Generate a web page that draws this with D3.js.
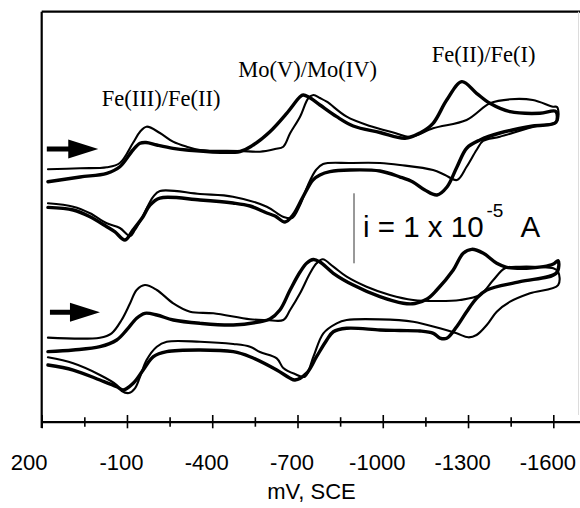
<!DOCTYPE html>
<html>
<head>
<meta charset="utf-8">
<script src="https://cdn.jsdelivr.net/npm/d3@7"></script>
<style>
  body { margin: 0; background: #fff; }
  svg { display: block; }
  .trace { fill: none; stroke: #000; stroke-linejoin: round; stroke-linecap: round; }
  .thick { stroke-width: 3.4; }
  .thin { stroke-width: 2.1; }
  .axis text { font-family: "Liberation Sans", Arial, sans-serif; font-size: 22px; fill: #000; }
  .peak { font-family: "Liberation Serif", "Times New Roman", serif; font-size: 22.5px; fill: #000; }
  .sans { font-family: "Liberation Sans", Arial, sans-serif; fill: #000; }
</style>
</head>
<body>
<div id="cv"></div>
<script>

// potential in mV vs SCE, current in uA (panels offset vertically)
var topThin = [
  [178,36.24],[65,36.39],[-29,36.53],[-75,37.14],[-121,40.0],[-146,41.61],[-169,42.33],[-216,41.43],
  [-262,40.19],[-310,39.47],[-357,39.0],[-498,38.86],[-568,38.76],[-621,39.14],[-650,39.47],[-674,41.39],
  [-709,43.76],[-738,46.39],[-756,46.86],[-779,46.43],[-803,45.9],[-873,43.76],[-955,42.43],[-1043,41.43],
  [-1096,40.86],[-1177,42.1],[-1295,43.29],[-1377,45.67],[-1448,46.24],[-1528,46.14],[-1599,45.19],[-1613,45.14],
  [-1613,43.14],[-1528,42.29],[-1412,40.9],[-1353,40.29],[-1330,39.0],[-1295,36.61],[-1261,34.71],[-1219,35.43],
  [-1177,36.14],[-1061,36.86],[-990,37.14],[-885,37.14],[-790,37.0],[-765,36.14],[-737,34.0],[-709,31.14],
  [-681,29.29],[-649,29.47],[-592,30.9],[-473,32.33],[-357,32.71],[-216,33.14],[-192,32.29],[-156,29.57],
  [-128,27.57],[-111,26.71],[-75,27.86],[-29,28.53],[30,29.96],[89,30.9],[178,31.39]
];

var topThick = [
  [178,34.47],[65,35.14],[-29,35.67],[-75,36.61],[-121,39.0],[-146,39.96],[-167,40.07],[-205,39.71],
  [-262,39.24],[-310,39.0],[-498,38.79],[-544,39.71],[-603,41.61],[-662,44.24],[-709,46.61],[-720,46.86],
  [-738,46.61],[-779,45.43],[-838,43.76],[-896,42.43],[-990,41.5],[-1078,40.67],[-1131,41.43],[-1177,42.81],
  [-1225,46.14],[-1278,48.76],[-1330,47.1],[-1377,45.67],[-1448,44.47],[-1553,44.24],[-1609,44.5],
  [-1609,42.93],[-1528,42.43],[-1412,41.43],[-1342,40.43],[-1296,39.29],[-1261,36.57],[-1226,33.71],[-1191,32.57],
  [-1148,33.29],[-1106,34.43],[-1061,35.14],[-990,36.0],[-885,36.14],[-814,35.9],[-779,35.43],[-754,34.71],
  [-719,32.29],[-684,29.71],[-656,28.71],[-621,29.57],[-592,30.0],[-533,31.0],[-473,31.43],[-357,31.86],
  [-216,32.14],[-181,31.14],[-156,29.43],[-121,27.57],[-93,26.14],[-58,27.29],[-29,28.04],[30,29.47],
  [89,30.43],[178,30.81]
];

var bottomThin = [
  [178,12.19],[-5,12.19],[-46,12.81],[-81,14.71],[-111,17.1],[-134,19.0],[-163,19.71],[-205,19.0],
  [-263,17.1],[-322,15.9],[-404,15.67],[-533,14.81],[-592,14.71],[-650,14.71],[-674,16.14],[-709,18.53],
  [-744,21.39],[-767,22.81],[-789,23.39],[-826,22.33],[-873,20.9],[-943,19.47],[-1025,18.29],[-1107,17.57],
  [-1190,17.43],[-1272,17.57],[-1342,18.29],[-1389,20.43],[-1430,22.1],[-1483,22.33],[-1553,22.29],[-1600,22.1],
  [-1617,21.61],
  [-1617,19.71],[-1518,18.53],[-1448,17.33],[-1401,15.9],[-1366,14.0],[-1330,12.57],[-1301,12.24],[-1260,12.81],
  [-1201,13.53],[-1107,14.47],[-990,14.81],[-873,14.71],[-838,14.24],[-791,12.81],[-756,9.47],[-726,6.61],
  [-691,7.0],[-650,7.86],[-627,9.24],[-568,10.14],[-533,10.9],[-474,11.29],[-357,11.61],[-240,11.61],
  [-205,10.9],[-169,9.0],[-146,6.61],[-128,4.96],[-107,4.29],[-82,4.57],[-64,5.43],[-5,6.86],
  [89,8.53],[178,9.39]
];

var bottomThick = [
  [178,10.19],[89,10.43],[-5,10.9],[-64,11.86],[-99,13.29],[-134,14.96],[-163,15.67],[-205,15.43],
  [-263,14.71],[-357,14.24],[-474,14.0],[-568,14.47],[-603,14.86],[-638,16.14],[-674,19.0],[-709,21.57],
  [-733,22.86],[-756,23.36],[-779,23.0],[-826,21.39],[-896,19.71],[-990,18.04],[-1072,17.1],[-1113,17.07],
  [-1156,17.71],[-1190,19.0],[-1248,21.86],[-1283,24.24],[-1313,24.81],[-1354,24.24],[-1401,22.81],[-1436,22.24],
  [-1506,22.1],[-1565,22.33],[-1600,22.71],[-1617,23.19],
  [-1611,21.43],[-1483,20.19],[-1366,19.0],[-1330,17.81],[-1295,15.9],[-1260,13.76],[-1225,12.1],[-1201,12.14],
  [-1178,12.81],[-1131,13.14],[-1061,13.21],[-990,13.29],[-873,13.53],[-826,13.04],[-803,11.86],[-767,9.47],
  [-732,7.1],[-691,6.14],[-674,6.39],[-627,7.57],[-533,9.47],[-474,10.19],[-357,10.43],[-240,10.19],
  [-193,9.47],[-157,7.57],[-122,5.67],[-87,4.71],[-64,5.19],[-5,6.14],[89,7.57],[178,8.29]
];

// x axis ticks every 150 mV, labels every 300 mV
var tickValues = d3.range(200, -1601, -150);
var labelValues = [200, -100, -400, -700, -1000, -1300, -1600];
var tickLabels = ["200", "-100", "-400", "-700", "-1000", "-1300", "-1600"];

// scan direction arrows (start / end potential, current level)
var arrowFrom = [182, 171];
var arrowTo = [1, -5];
var arrowLevel = [39.14, 15.81];

var peakLabels = ["Fe(III)/Fe(II)", "Mo(V)/Mo(IV)", "Fe(II)/Fe(I)"];
var scaleBarUA = 10; // 1 x 10^-5 A

var width = 580, height = 508;
var margin = {top: 11.7, left: 41.7, bottom: 421.7};

var svg = d3.select("#cv")
  .append("svg")
    .attr("width", width)
    .attr("height", height);

svg.append("rect").attr("width", width).attr("height", height).attr("fill", "#fff");

// 3.518 mV per pixel, 7 px per uA
var x = d3.scaleLinear().domain([200, -1750]).range([margin.left, margin.left + 1950 / 3.5184]);
var y = d3.scaleLinear().domain([0, 10]).range([423, 353]);

// frame: left, top, faint right edge
svg.append("line")
  .attr("x1", margin.left).attr("x2", margin.left)
  .attr("y1", margin.top).attr("y2", 428)
  .attr("stroke", "#000").attr("stroke-width", 2.2);
svg.append("line")
  .attr("x1", margin.left).attr("x2", width)
  .attr("y1", margin.top).attr("y2", margin.top)
  .attr("stroke", "#000").attr("stroke-width", 2.2);
svg.append("line")
  .attr("x1", 578.5).attr("x2", 578.5)
  .attr("y1", margin.top).attr("y2", 415)
  .attr("stroke", "#dcdcdc").attr("stroke-width", 1);

// x axis
var isMajor = function(d) { return labelValues.indexOf(d) >= 0; };
var xAxis = d3.axisBottom(x)
  .tickValues(tickValues)
  .tickSizeOuter(0)
  .tickFormat(function(d) { var i = labelValues.indexOf(d); return i >= 0 ? tickLabels[i] : ""; });

var axisG = svg.append("g")
  .attr("class", "axis")
  .attr("transform", "translate(0," + margin.bottom + ")")
  .call(xAxis);

axisG.select(".domain").attr("stroke-width", 2.2);
axisG.selectAll(".tick line")
  .attr("y1", function(d) { return isMajor(d) ? -6.7 : -4.5; })
  .attr("y2", function(d) { return isMajor(d) ? 6.6 : 5; })
  .attr("stroke-width", 1.6);
axisG.selectAll(".tick text")
  .attr("y", 48.5)
  .attr("dy", 0)
  .attr("dx", function(d) { return d === 200 ? -13 : -6; });

svg.append("text")
  .attr("class", "sans")
  .attr("x", 311.5)
  .attr("y", 499)
  .style("font-size", "22px")
  .style("text-anchor", "middle")
  .text("mV, SCE");

// voltammograms
var line = d3.line()
  .x(function(d) { return x(d[0]); })
  .y(function(d) { return y(d[1]); })
  .curve(d3.curveCatmullRom.alpha(0.5));

svg.selectAll(".thin")
  .data([topThin, bottomThin])
  .enter()
  .append("path")
    .attr("class", "trace thin")
    .attr("d", line);

svg.selectAll(".thick")
  .data([topThick, bottomThick])
  .enter()
  .append("path")
    .attr("class", "trace thick")
    .attr("d", line);

// scan arrows
arrowFrom.forEach(function(v, i) {
  var x0 = x(v), x1 = x(arrowTo[i]), yy = y(arrowLevel[i]);
  var head = 30, hh = 9.5, sh = 2.5;
  svg.append("path")
    .attr("d", "M" + x0 + "," + (yy - sh) + "L" + (x1 - head) + "," + (yy - sh) +
               "L" + (x1 - head) + "," + (yy - hh) + "L" + x1 + "," + yy +
               "L" + (x1 - head) + "," + (yy + hh) + "L" + (x1 - head) + "," + (yy + sh) +
               "L" + x0 + "," + (yy + sh) + "Z")
    .attr("fill", "#000");
});

// redox couple labels
var peakX = [101.7, 238.3, 431.7], peakY = [106, 76.5, 62];
svg.selectAll(".peak")
  .data(peakLabels)
  .enter()
  .append("text")
    .attr("class", "peak")
    .attr("x", function(d, i) { return peakX[i]; })
    .attr("y", function(d, i) { return peakY[i]; })
    .text(function(d) { return d; });

// current scale bar
var barX = 354, barBottom = 263.3;
svg.append("line")
  .attr("x1", barX).attr("x2", barX)
  .attr("y1", barBottom).attr("y2", barBottom - (y(0) - y(scaleBarUA)))
  .attr("stroke", "#333").attr("stroke-width", 1);

var lbl = svg.append("text")
  .attr("class", "sans")
  .attr("x", 363)
  .attr("y", 236.7)
  .style("font-size", "29.5px");
lbl.append("tspan").text("i = 1 x 10");
lbl.append("tspan").attr("dx", 3).attr("dy", -20).style("font-size", "19px").text("-5");
lbl.append("tspan").attr("dx", 17).attr("dy", 20).text("A");

</script>
</body>
</html>
